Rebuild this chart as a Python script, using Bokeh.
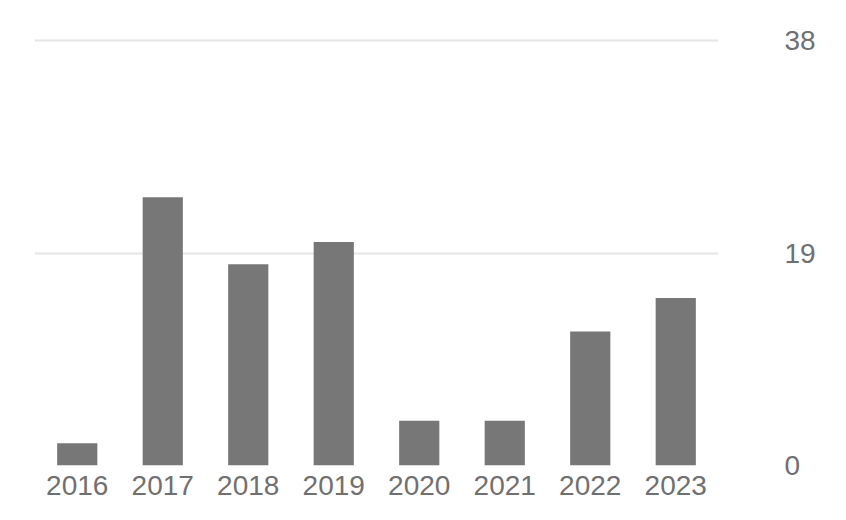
from bokeh.plotting import figure
from bokeh.models import FactorRange, Range1d, FixedTicker, Grid, ColumnDataSource
from bokeh.embed import file_html
from bokeh.resources import INLINE

years = ["2016", "2017", "2018", "2019", "2020", "2021", "2022", "2023"]
counts = [2, 24, 18, 20, 4, 4, 12, 15]
y_ticks = [0, 19, 38]

source = ColumnDataSource(data=dict(year=years, count=counts))

p = figure(
    x_range=FactorRange(*years, range_padding=0),
    y_range=Range1d(0, 38.3),
    width=838, height=512,
    output_backend="svg", toolbar_location=None,
    y_axis_location="right",
    min_border_left=34, min_border_right=120,
    min_border_top=37, min_border_bottom=47,
)
p.outline_line_color = None
p.background_fill_color = "white"
p.border_fill_color = "white"

p.vbar(x="year", top="count", width=0.47, source=source,
       fill_color="#777777", line_color=None)

# grids
p.xgrid.grid_line_color = None
p.ygrid.ticker = FixedTicker(ticks=[t for t in y_ticks if t > 0])
p.ygrid.grid_line_color = "#e6e6e6"
p.ygrid.grid_line_width = 2
base = Grid(dimension=1, ticker=FixedTicker(ticks=[0]),
            grid_line_color="#d9d9d9", grid_line_dash="2 2", grid_line_width=1)
p.add_layout(base)

# y axis (right)
ya = p.yaxis[0]
ya.ticker = FixedTicker(ticks=y_ticks)
ya.axis_line_color = None
ya.major_tick_line_color = None
ya.minor_tick_line_color = None
ya.major_label_standoff = 60
ya.major_label_text_font = "Liberation Sans"
ya.major_label_text_font_size = "28px"
ya.major_label_text_color = "#707070"

# x axis
xa = p.xaxis[0]
xa.axis_line_color = None
xa.major_tick_line_color = None
xa.minor_tick_line_color = None
xa.major_label_standoff = 4
xa.major_label_text_font = "Liberation Sans"
xa.major_label_text_font_size = "28px"
xa.major_label_text_color = "#707070"

open("out.html", "w").write(file_html(p, INLINE))
